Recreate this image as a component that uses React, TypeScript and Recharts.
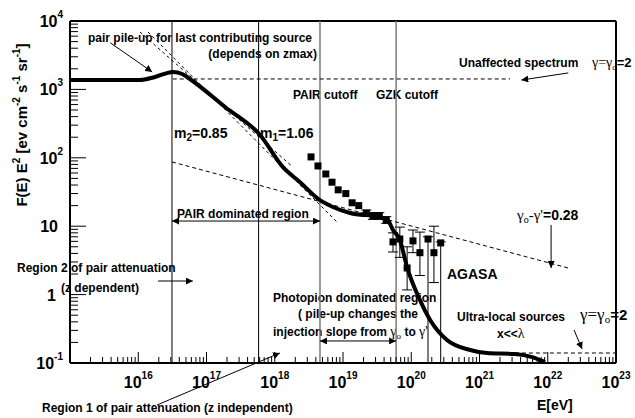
import React from 'react';
import {
  ComposedChart,
  Line,
  Scatter,
  XAxis,
  YAxis,
  ErrorBar,
  ReferenceLine,
} from 'recharts';

const SANS = '"Liberation Sans", Arial, Helvetica, sans-serif';
const SERIF = '"Liberation Serif", "Times New Roman", serif';

// axis decades
const xDecades = [15, 16, 17, 18, 19, 20, 21, 22, 23];
const yDecades = [-1, 0, 1, 2, 3, 4];
const minorSteps = [1, 2, 3, 4, 5, 6, 7, 8, 9];
const xRange = [1e15, 1e23];
const yRange = [0.1, 1e4];

// propagated spectrum (thick curve)
const specE = [1e15, 3.9e15, 1.06e16, 1.76e16, 3.23e16, 4.4e16, 5.7e16, 1.87e17, 6.1e17, 1.32e18, 2.35e18, 4.6e18, 7.1e18, 1.27e19, 3.5e19, 4.6e19, 5.4e19, 6.8e19, 8.7e19, 1.34e20, 1.88e20, 3.34e20, 7.3e20, 1.29e21, 3.3e21, 5.9e21, 9.1e21];
const specF = [1370, 1370, 1370, 1520, 1800, 1680, 1420, 553, 215, 73, 44, 24, 19.1, 15.6, 13.6, 11.9, 8.8, 6.3, 2.5, 0.83, 0.43, 0.217, 0.155, 0.14, 0.135, 0.122, 0.103];

// dashed guides
const flatE = [3.2e16, 2.8e21];
const flatF = [1420, 1420];
const slopeM2E = [1.06e16, 1.85e18];
const slopeM2F = [6900, 73];
const slopeM1E = [1.39e16, 8.45e18];
const slopeM1F = [6900, 11.1];
const pairE = [3.12e16, 1.98e22];
const pairF = [87, 2.45];
const localE = [3.3e21, 1e23];
const localF = [0.14, 0.14];

// vertical marker lines
const blackCuts = [3.12e16, 5.8e17];
const grayCuts = [4.6e18, 6e19];

// AGASA data
const agasaE = [3.4e18, 4.3e18, 5.6e18, 6.9e18, 8.5e18, 1.1e19, 1.36e19, 1.7e19, 2.2e19, 2.75e19, 3.4e19, 4.3e19, 5.4e19, 6.8e19, 8.7e19, 1.06e20, 1.34e20, 1.76e20, 2.15e20, 2.7e20];
const agasaF = [103, 76, 58, 44, 34, 30, 22, 20, 15.6, 14.1, 14.1, 12.3, 5.9, 6.5, 2.45, 6.1, 4.1, 6.5, 4.1, 5.7];
const agasaLo = [null, null, null, null, null, null, null, null, 14, 12.6, 12.6, 11, 4.2, 3.5, 1.17, 4.1, 1.9, 0.1, 1.5, 0.1];
const agasaHi = [null, null, null, null, null, null, null, null, 17.2, 15.8, 15.8, 13.8, 8.0, 9.7, 5.0, 8.8, 8.2, 7.0, 10, 5.9];

const pairs = (xs: number[], ys: number[]) => xs.map((e, i) => ({ e, f: ys[i] }));

const spectrum = pairs(specE, specF);
const flat = pairs(flatE, flatF);
const slopeM2 = pairs(slopeM2E, slopeM2F);
const slopeM1 = pairs(slopeM1E, slopeM1F);
const pairLine = pairs(pairE, pairF);
const localLine = pairs(localE, localF);
const agasa = agasaE.map((e, i) => {
  const lo = agasaLo[i];
  const hi = agasaHi[i];
  return {
    e,
    f: agasaF[i],
    err: lo == null || hi == null ? undefined : [agasaF[i] - lo, hi - agasaF[i]],
  };
});

const xTicks = xDecades.flatMap((d) => (d === 23 ? [10 ** d] : minorSteps.map((m) => m * 10 ** d)));
const yTicks = yDecades.flatMap((d) => (d === 4 ? [10 ** d] : minorSteps.map((m) => m * 10 ** d)));

// layout
const W = 627;
const H = 410;
const margin = { top: 13, right: 19, left: 12, bottom: 15 };
const yAxisW = 50;
const xAxisH = 40;
const left = margin.left + yAxisW;
const top = margin.top;
const right = W - margin.right;
const bottom = H - margin.bottom - xAxisH;

const decadeOf = (v: number) => {
  const lg = Math.log10(v);
  return Math.abs(lg - Math.round(lg)) < 1e-6 ? Math.round(lg) : null;
};

const XTick = (props: any) => {
  const { x, y, payload } = props;
  const lg = decadeOf(payload.value);
  return (
    <g>
      <line x1={x} x2={x} y1={y} y2={y - (lg !== null ? 11 : 6)} stroke="#000" strokeWidth={1} />
      {lg !== null && lg > 15 && (
        <text x={x} y={y + 25} textAnchor="middle" fontFamily={SANS} fontWeight="bold" fontSize={16} fill="#000">
          10<tspan dy={-9} fontSize={10}>{lg}</tspan>
        </text>
      )}
    </g>
  );
};

const YTick = (props: any) => {
  const { x, y, payload } = props;
  const lg = decadeOf(payload.value);
  let label: React.ReactNode = null;
  if (lg === 0) {
    label = (
      <text x={x - 14} y={y + 6} textAnchor="end" fontFamily={SANS} fontWeight="bold" fontSize={16} fill="#000">1</text>
    );
  } else if (lg === 1) {
    label = (
      <text x={x - 12} y={y + 6} textAnchor="end" fontFamily={SANS} fontWeight="bold" fontSize={16} fill="#000">10</text>
    );
  } else if (lg !== null) {
    label = (
      <text x={x - 7} y={y + 6} textAnchor="end" fontFamily={SANS} fontWeight="bold" fontSize={16} fill="#000">
        10<tspan dy={-9} fontSize={10}>{lg}</tspan>
      </text>
    );
  }
  return (
    <g>
      <line x1={x} x2={x + (lg !== null ? 16 : 8)} y1={y} y2={y} stroke="#000" strokeWidth={1} />
      {label}
    </g>
  );
};

const Square = (p: any) => <rect x={p.cx - 3.5} y={p.cy - 3.5} width={7} height={7} fill="#000" />;

const arrow = (both: boolean) => (p: any) => (
  <line
    x1={p.x1}
    y1={p.y1}
    x2={p.x2}
    y2={p.y2}
    stroke="#000"
    strokeWidth={1}
    markerEnd="url(#ah)"
    markerStart={both ? 'url(#ah)' : undefined}
  />
);

const txt = { fontFamily: SANS, fontWeight: 'bold' as const, fontSize: 12, fill: '#000' };

export default function App() {
  return (
    <div style={{ position: 'absolute', left: 8, top: 8 }}>
      <ComposedChart width={W} height={H} margin={margin}>
        <defs>
          <marker id="ah" viewBox="0 0 10 10" refX="10" refY="5" markerWidth="7" markerHeight="7" markerUnits="userSpaceOnUse" orient="auto-start-reverse">
            <path d="M0,0 L10,5 L0,10 z" fill="#000" />
          </marker>
        </defs>
        <XAxis
          dataKey="e"
          type="number"
          scale="log"
          domain={xRange}
          allowDataOverflow
          ticks={xTicks}
          interval={0}
          height={xAxisH}
          tickSize={0}
          tickMargin={0}
          axisLine={{ stroke: '#000', strokeWidth: 2 }}
          tickLine={false}
          tick={(p: any) => <XTick {...p} />}
        />
        <YAxis
          dataKey="f"
          type="number"
          scale="log"
          domain={yRange}
          allowDataOverflow
          ticks={yTicks}
          interval={0}
          width={yAxisW}
          tickSize={0}
          tickMargin={0}
          axisLine={{ stroke: '#000', strokeWidth: 2 }}
          tickLine={false}
          tick={(p: any) => <YTick {...p} />}
        />

        {/* plotting box */}
        <g stroke="#000" strokeWidth={2}>
          <line x1={left} y1={top} x2={right} y2={top} />
          <line x1={right} y1={top} x2={right} y2={bottom} />
          <line x1={left} y1={top} x2={left} y2={bottom} />
          <line x1={left} y1={bottom} x2={right} y2={bottom} />
        </g>

        {blackCuts.map((e) => (
          <ReferenceLine key={e} x={e} stroke="#000" strokeWidth={1} />
        ))}
        {grayCuts.map((e) => (
          <ReferenceLine key={e} x={e} stroke="#7a7a7a" strokeWidth={1.5} />
        ))}

        <Line data={flat} dataKey="f" type="linear" stroke="#000" strokeWidth={1} strokeDasharray="4 3" dot={false} isAnimationActive={false} />
        <Line data={slopeM2} dataKey="f" type="linear" stroke="#000" strokeWidth={1} strokeDasharray="3 3" dot={false} isAnimationActive={false} />
        <Line data={slopeM1} dataKey="f" type="linear" stroke="#000" strokeWidth={1} strokeDasharray="3 3" dot={false} isAnimationActive={false} />
        <Line data={pairLine} dataKey="f" type="linear" stroke="#000" strokeWidth={1} strokeDasharray="4 3" dot={false} isAnimationActive={false} />
        <Line data={localLine} dataKey="f" type="linear" stroke="#000" strokeWidth={1} strokeDasharray="4 3" dot={false} isAnimationActive={false} />
        <Line data={spectrum} dataKey="f" type="monotone" stroke="#000" strokeWidth={4} dot={false} isAnimationActive={false} />

        <Scatter data={agasa} dataKey="f" shape={Square} isAnimationActive={false}>
          <ErrorBar dataKey="err" direction="y" width={5} stroke="#000" strokeWidth={1} />
        </Scatter>

        {/* arrows */}
        <ReferenceLine segment={[{ x: 3.9e15, y: 4800 }, { x: 1.6e16, y: 1800 }]} ifOverflow="visible" shape={arrow(false)} />
        <ReferenceLine segment={[{ x: 2e22, y: 1740 }, { x: 4.1e21, y: 1370 }]} ifOverflow="visible" shape={arrow(false)} />
        <ReferenceLine segment={[{ x: 3.12e16, y: 11.9 }, { x: 4.6e18, y: 11.9 }]} ifOverflow="visible" shape={arrow(true)} />
        <ReferenceLine segment={[{ x: 1.95e16, y: 1.58 }, { x: 6.3e16, y: 1.58 }]} ifOverflow="visible" shape={arrow(false)} />
        <ReferenceLine segment={[{ x: 1.88e16, y: 0.0243 }, { x: 1.19e18, y: 0.14 }]} ifOverflow="visible" shape={arrow(false)} />
        <ReferenceLine segment={[{ x: 4.6e18, y: 0.21 }, { x: 6e19, y: 0.21 }]} ifOverflow="visible" shape={arrow(true)} />
        <ReferenceLine segment={[{ x: 1.12e22, y: 10.4 }, { x: 1.12e22, y: 2.45 }]} ifOverflow="visible" shape={arrow(false)} />
        <ReferenceLine segment={[{ x: 2.43e22, y: 0.303 }, { x: 3.18e22, y: 0.16 }]} ifOverflow="visible" shape={arrow(false)} />

        {/* annotations */}
        <text x={80} y={33.5} {...txt}>pair pile-up for last contributing source</text>
        <text x={309} y={49.5} textAnchor="end" {...txt}>(depends on zmax)</text>
        <text x={451} y={58.5} {...txt}>Unaffected spectrum</text>
        <text x={584} y={58.5} fill="#000">
          <tspan fontFamily={SERIF} fontSize={14}>γ=γ</tspan>
          <tspan fontFamily={SERIF} fontSize={9} dy={3}>o</tspan>
          <tspan fontFamily={SANS} fontWeight="bold" fontSize={13} dy={-3}>=2</tspan>
        </text>
        <text x={285} y={90.5} {...txt}>PAIR cutoff</text>
        <text x={368} y={90.5} {...txt}>GZK cutoff</text>
        <text x={166} y={130} {...txt} fontSize={14}>
          m<tspan fontSize={10} dy={3}>2</tspan><tspan dy={-3}>=0.85</tspan>
        </text>
        <text x={252} y={130} {...txt} fontSize={14}>
          m<tspan fontSize={10} dy={3}>1</tspan><tspan dy={-3}>=1.06</tspan>
        </text>
        <text x={169} y={209.5} {...txt}>PAIR dominated region</text>
        <text x={509} y={212} fill="#000">
          <tspan fontFamily={SERIF} fontSize={15}>γ</tspan>
          <tspan fontFamily={SERIF} fontSize={10} dy={3}>o</tspan>
          <tspan fontFamily={SERIF} fontSize={15} dy={-3}>-γ'</tspan>
          <tspan fontFamily={SANS} fontWeight="bold" fontSize={14}>=0.28</tspan>
        </text>
        <text x={9} y={263.5} {...txt}>Region 2 of pair attenuation</text>
        <text x={53} y={283.5} {...txt}>(z dependent)</text>
        <text x={439} y={271} {...txt} fontSize={14}>AGASA</text>
        <text x={265} y={293.5} {...txt}>Photopion dominated region</text>
        <text x={290} y={309.5} {...txt}>( pile-up changes the</text>
        <text x={265} y={327.5} {...txt}>
          injection slope from{' '}
          <tspan fontFamily={SERIF} fontWeight="normal" fontSize={14}>γ</tspan>
          <tspan fontFamily={SERIF} fontWeight="normal" fontSize={9} dy={3}>o</tspan>
          <tspan dy={-3}> to </tspan>
          <tspan fontFamily={SERIF} fontWeight="normal" fontSize={14}>γ'</tspan>
        </text>
        <text x={449} y={312.5} {...txt}>Ultra-local sources</text>
        <text x={489} y={329.5} {...txt}>
          x&lt;&lt;<tspan fontFamily={SERIF} fontWeight="normal" fontSize={14}>λ</tspan>
        </text>
        <text x={572} y={312} fill="#000">
          <tspan fontFamily={SERIF} fontSize={17}>γ=γ</tspan>
          <tspan fontFamily={SERIF} fontSize={11} dy={3}>o</tspan>
          <tspan fontFamily={SANS} fontWeight="bold" fontSize={15} dy={-3}>=2</tspan>
        </text>
        <text x={34} y={403.5} {...txt}>Region 1 of pair attenuation (z independent)</text>
        <text x={529} y={402} {...txt} fontSize={14}>E[eV]</text>

        <text x={19} y={117} transform="rotate(-90 19 117)" textAnchor="middle" {...txt} fontSize={15}>
          F(E) E<tspan fontSize={10} dy={-7}>2</tspan>
          <tspan dy={7}> [ev cm</tspan>
          <tspan fontSize={10} dy={-7}>-2</tspan>
          <tspan dy={7}> s</tspan>
          <tspan fontSize={10} dy={-7}>-1</tspan>
          <tspan dy={7}> sr</tspan>
          <tspan fontSize={10} dy={-7}>-1</tspan>
          <tspan dy={7}>]</tspan>
        </text>
      </ComposedChart>
    </div>
  );
}
